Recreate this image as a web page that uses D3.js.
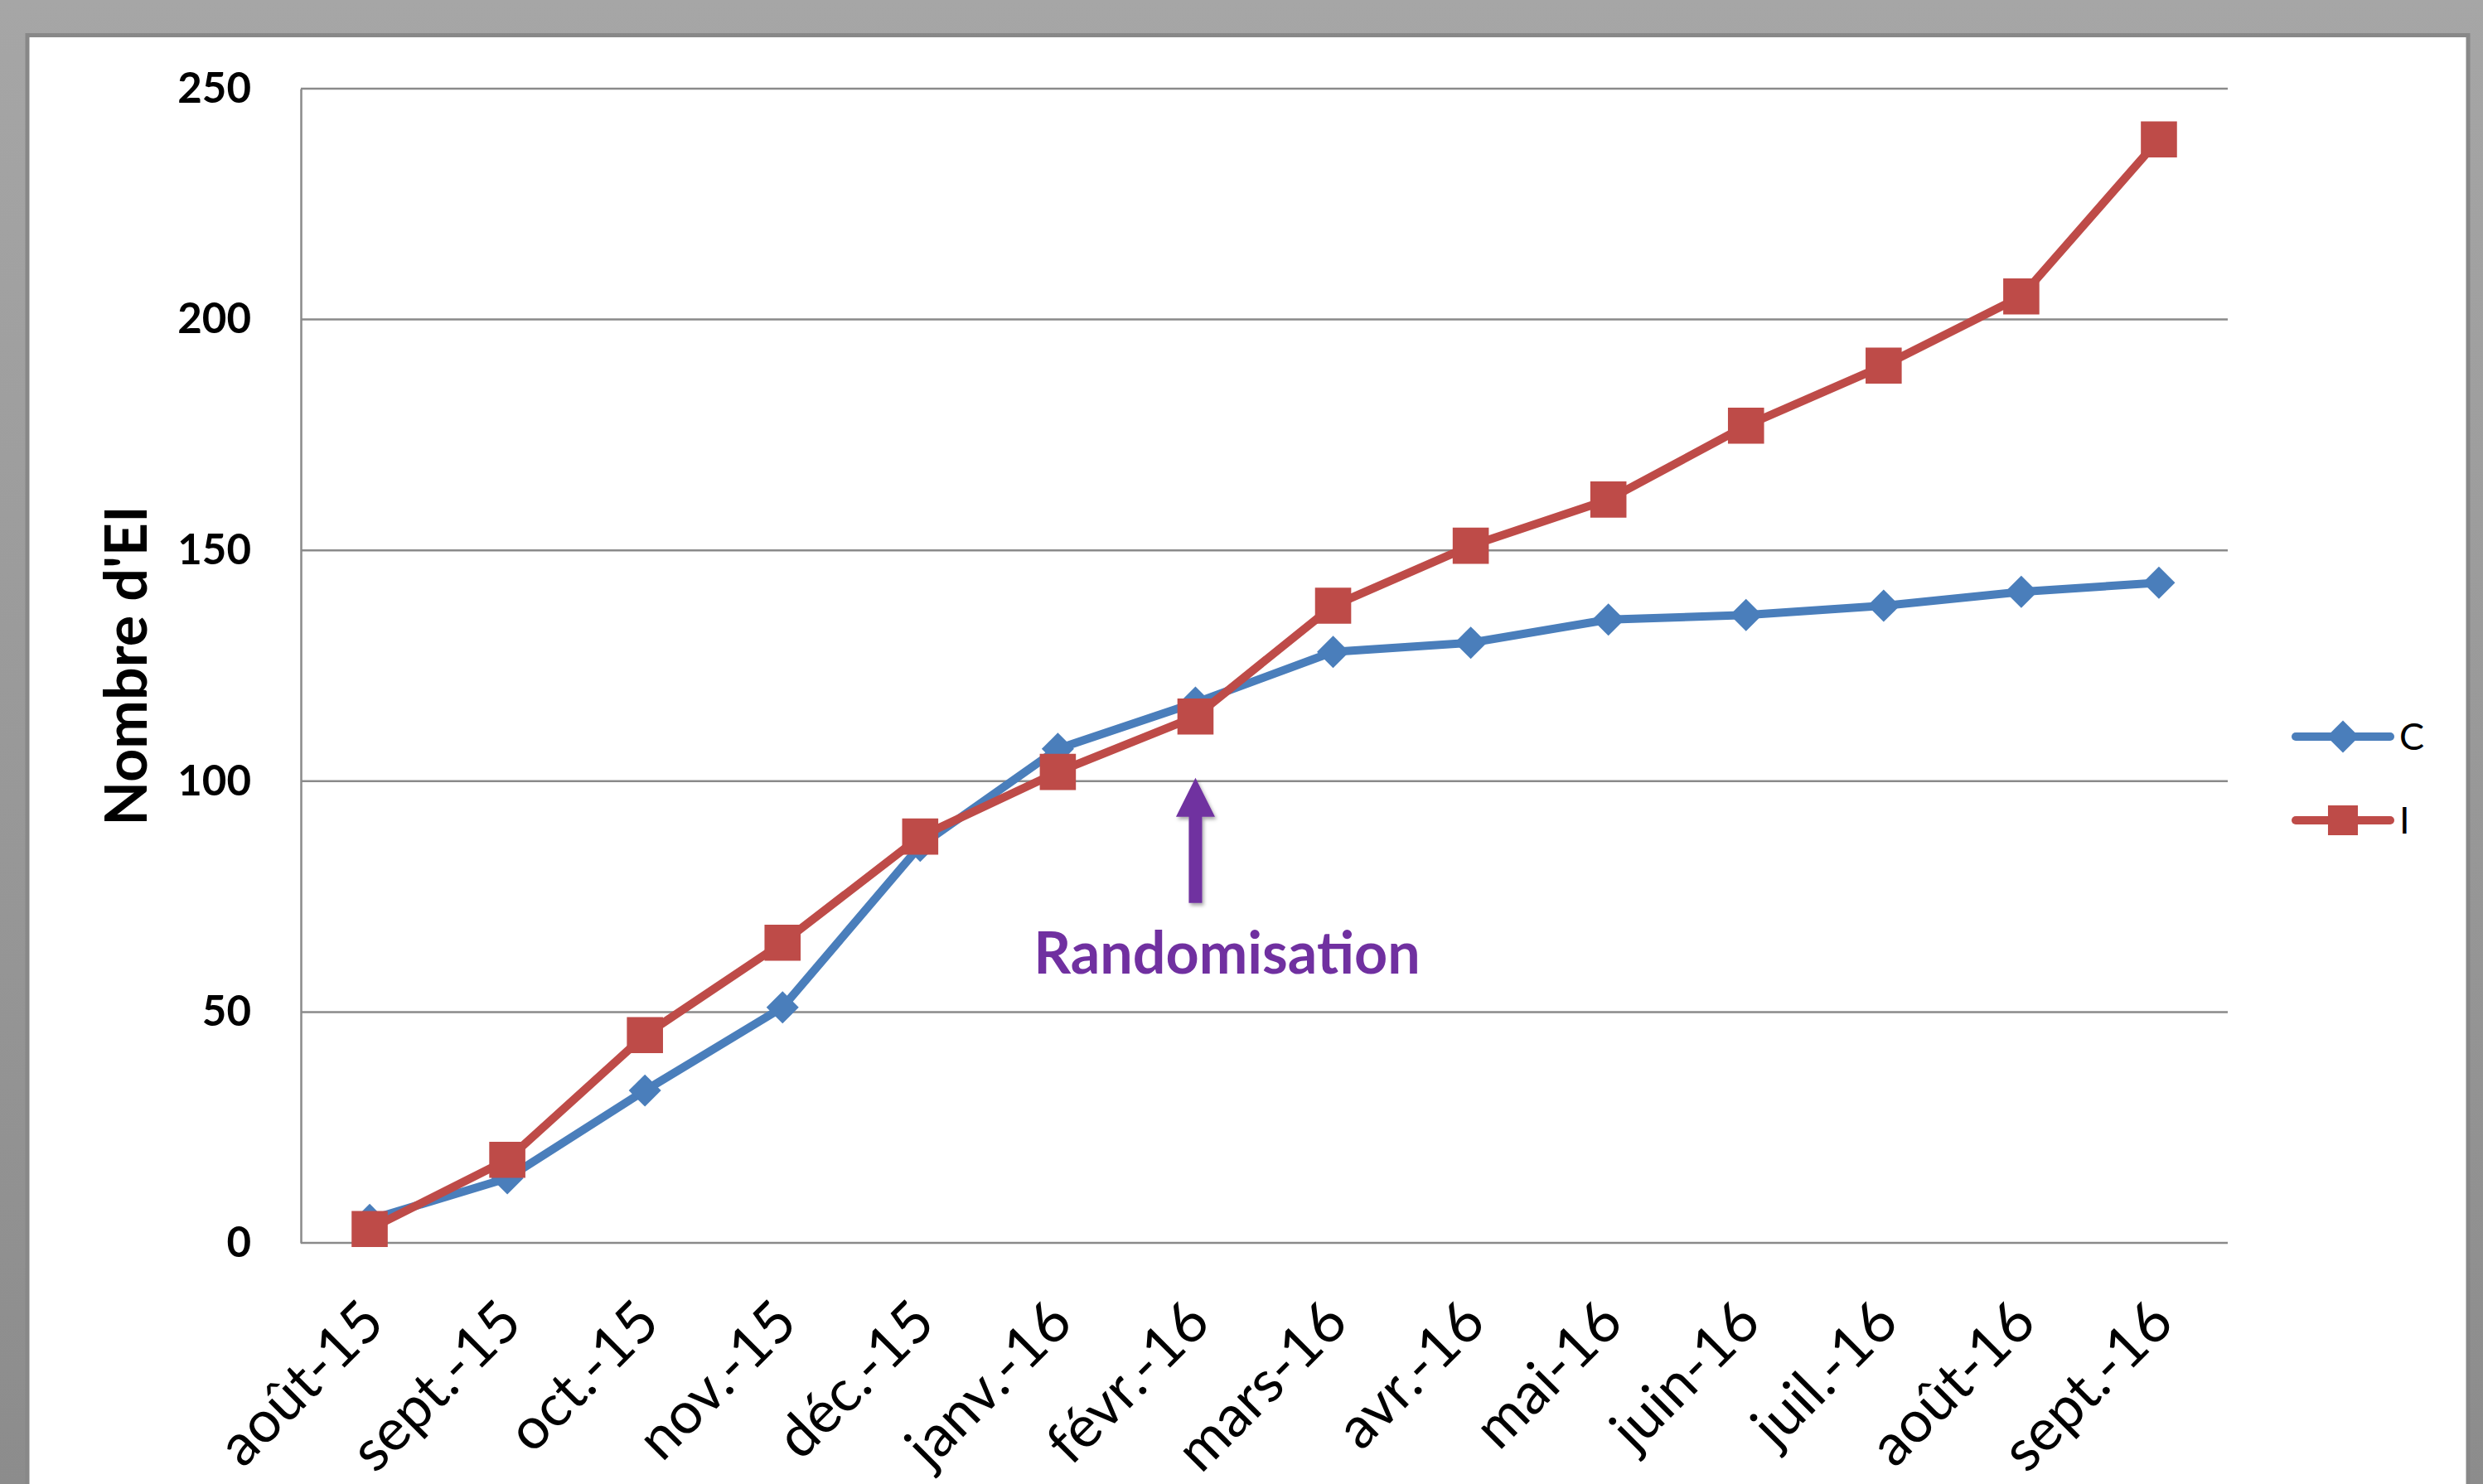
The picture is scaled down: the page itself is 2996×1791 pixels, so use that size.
<!DOCTYPE html>
<html>
<head>
<meta charset="utf-8">
<script src="https://cdn.jsdelivr.net/npm/d3@7"></script>
<style>
  html, body { margin: 0; padding: 0; background: #a5a5a5; }
  svg { display: block; }
</style>
</head>
<body>
<svg id="chart"></svg>
<script>
const months = ["août-15", "sept.-15", "oct.-15", "nov.-15", "déc.-15", "janv.-16", "févr.-16",
                "mars-16", "avr.-16", "mai-16", "juin-16", "juil.-16", "août-16", "sept.-16"];
const seriesC = [5, 14, 33, 51, 86, 107, 117, 128, 130, 135, 136, 138, 141, 143];
const seriesI = [3, 18, 45, 65, 88, 102, 114, 138, 151, 161, 177, 190, 205, 239];
const yTicks = [0, 50, 100, 150, 200, 250];
const randomMonth = "févr.-16";

const W = 2996, H = 1791;
const margin = { top: 107, right: 308, bottom: 291, left: 363 };
const width = W - margin.left - margin.right,
      height = H - margin.top - margin.bottom;
const blue = "#4a7ebb", red = "#be4b48", purple = "#7030a0", grid = "#8a8a8a";

const svg = d3.select("#chart").attr("width", W).attr("height", H)
  .style("font-family", "Lato, 'Open Sans', sans-serif");

// background + shadowy frame
const defs = svg.append("defs");
const bg = defs.append("linearGradient").attr("id", "bg").attr("x1", 0).attr("x2", 0).attr("y1", 0).attr("y2", 1);
bg.append("stop").attr("offset", "0%").attr("stop-color", "#a6a6a6");
bg.append("stop").attr("offset", "100%").attr("stop-color", "#8c8c8c");
const shadow = defs.append("filter").attr("id", "shadow").attr("x", "-50%").attr("y", "-20%").attr("width", "200%").attr("height", "140%");
shadow.append("feDropShadow").attr("dx", 2).attr("dy", 3).attr("stdDeviation", 2)
  .attr("flood-color", "#000").attr("flood-opacity", 0.35);

svg.append("rect").attr("width", W).attr("height", H).attr("fill", "url(#bg)");
svg.append("rect").attr("x", 33).attr("y", 42.5).attr("width", 2945).attr("height", H)
  .attr("fill", "#fff").attr("stroke", "#888").attr("stroke-width", 5);

const g = svg.append("g").attr("transform", `translate(${margin.left},${margin.top})`);

const x = d3.scalePoint().domain(months).range([0, width]).padding(0.5);
const y = d3.scaleLinear().domain([0, 250]).range([height, 0]);

// gridlines
g.append("g")
  .selectAll("line")
  .data(yTicks.filter(d => d > 0))
  .join("line")
  .attr("x1", 0).attr("x2", width)
  .attr("y1", d => y(d)).attr("y2", d => y(d))
  .attr("stroke", grid).attr("stroke-width", 2.5);

// y axis
const yAxis = g.append("g")
  .call(d3.axisLeft(y).tickValues(yTicks).tickSize(0).tickPadding(60));
yAxis.select(".domain").attr("stroke", grid).attr("stroke-width", 2.5);
yAxis.selectAll("text")
  .style("font-family", "Lato, sans-serif")
  .style("font-size", "51px").style("font-weight", "bold").attr("fill", "#000");

// x axis
const xAxis = g.append("g").attr("transform", `translate(0,${height})`)
  .call(d3.axisBottom(x).tickSize(0).tickFormat(d => d));
xAxis.select(".domain").attr("d", `M0,0H${width}`).attr("stroke", grid).attr("stroke-width", 2.5);
xAxis.selectAll("text")
  .style("font-family", "Lato, sans-serif")
  .style("font-size", "70px").attr("fill", "#000")
  .attr("text-anchor", "end")
  .attr("dy", "0.35em")
  .attr("transform", "translate(3,82) rotate(-45)")
  .attr("y", 0).attr("x", 0);

// y title
svg.append("text")
  .attr("transform", `translate(152,${margin.top + height / 2}) rotate(-90)`)
  .attr("text-anchor", "middle").attr("dy", "0.35em")
  .style("font-size", "70px").style("font-weight", "bold")
  .text("Nombre d'EI");

// lines
const line = d3.line().x((d, i) => x(months[i])).y(d => y(d));
const diamond = d3.symbol().type(d3.symbolSquare).size(760);
const square = d3.symbol().type(d3.symbolSquare).size(1900);

function drawSeries(values, color, marker, rot) {
  g.append("path").datum(values)
    .attr("d", line).attr("fill", "none")
    .attr("stroke", color).attr("stroke-width", 10)
    .attr("stroke-linejoin", "round").attr("stroke-linecap", "round");
  g.append("g").selectAll("path")
    .data(values)
    .join("path")
    .attr("d", marker)
    .attr("transform", (d, i) => `translate(${x(months[i])},${y(d)}) rotate(${rot})`)
    .attr("fill", color);
}
drawSeries(seriesC, blue, diamond, 45);
drawSeries(seriesI, red, square, 0);

// randomisation arrow
const ax = x(randomMonth), tip = y(100) - 4;
g.append("path")
  .attr("d", `M${ax},${tip} L${ax + 23.5},${tip + 47} L${ax + 8},${tip + 47} L${ax + 8},${tip + 151}
              L${ax - 8},${tip + 151} L${ax - 8},${tip + 47} L${ax - 23.5},${tip + 47} Z`)
  .attr("fill", purple).attr("filter", "url(#shadow)");
g.append("text")
  .attr("x", ax + 38).attr("y", tip + 236)
  .attr("text-anchor", "middle")
  .attr("fill", purple)
  .style("font-size", "70px").style("font-weight", "bold")
  .text("Randomisation");

// legend
const legend = svg.append("g").attr("transform", "translate(2770,0)");
const legendItems = [
  { name: "C", color: blue, marker: diamond, rot: 45, y: 889 },
  { name: "I", color: red, marker: d3.symbol().type(d3.symbolSquare).size(1300), rot: 0, y: 990 }
];
legendItems.forEach(it => {
  const lg = legend.append("g").attr("transform", `translate(0,${it.y})`);
  lg.append("line").attr("x1", 0).attr("x2", 114)
    .attr("stroke", it.color).attr("stroke-width", 10).attr("stroke-linecap", "round");
  lg.append("path").attr("d", it.marker).attr("transform", `translate(57,0) rotate(${it.rot})`).attr("fill", it.color);
  lg.append("text").attr("x", 125).attr("dy", "0.35em")
    .style("font-size", "45px").attr("fill", "#000").text(it.name);
});
</script>
</body>
</html>
